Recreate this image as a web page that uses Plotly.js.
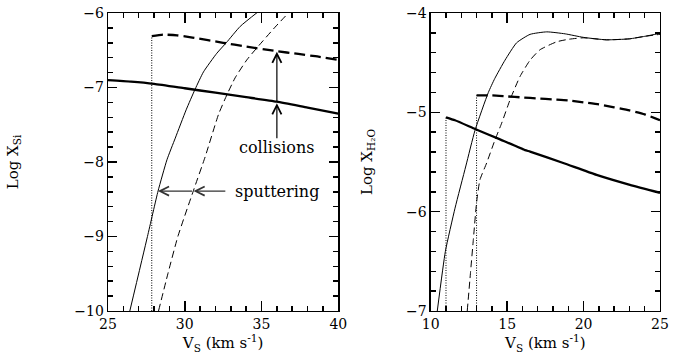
<!DOCTYPE html>
<html>
<head>
<meta charset="utf-8">
<script src="https://cdn.plot.ly/plotly-3.0.1.min.js"></script>
<style>html,body{margin:0;padding:0;background:#fff;}#chart{width:684px;height:362px;}</style>
</head>
<body>
<div id="chart"></div>
<script>
// ---- Left panel: Si ----
const siCollSolidV   = [25, 26.5, 28, 30, 32, 34, 36, 38, 40];
const siCollSolidLog = [-6.90, -6.92, -6.95, -7.01, -7.07, -7.13, -7.19, -7.27, -7.35];
const siCollDashV    = [27.85, 28.6, 29.5, 30.5, 32.5, 34, 35.9, 37.4, 38.5, 40];
const siCollDashLog  = [-6.31, -6.29, -6.30, -6.33, -6.40, -6.45, -6.51, -6.55, -6.58, -6.63];
const siSputSolidV   = [26.42, 27.57, 28.26, 28.84, 29.38, 30.09, 30.68, 31.22, 32.09, 32.70, 33.61, 34.80];
const siSputSolidLog = [-10, -9.0, -8.39, -7.97, -7.68, -7.30, -7.02, -6.79, -6.54, -6.40, -6.18, -5.98];
const siSputDashV    = [28.29, 28.9, 29.55, 30.57, 31.33, 32.2, 32.74, 33.28, 34.04, 34.73, 35.88, 36.75];
const siSputDashLog  = [-10, -9.5, -9.0, -8.38, -7.93, -7.36, -7.10, -6.87, -6.63, -6.46, -6.19, -6.0];
const siDotV   = [27.85, 27.85];
const siDotLog = [-10, -6.31];
const siXRange = [25, 40];
const siYRange = [-10, -6];
const siXTicks = [25, 30, 35, 40];
const siYTicks = [-10, -9, -8, -7, -6];

// ---- Right panel: H2O ----
const h2oCollSolidV   = [11, 11.59, 12.94, 14.5, 16.17, 16.5, 18.67, 20.85, 23.03, 25];
const h2oCollSolidLog = [-5.05, -5.08, -5.17, -5.27, -5.38, -5.395, -5.51, -5.63, -5.73, -5.81];
const h2oCollDashV    = [13, 14, 15, 16, 17, 18, 19, 20, 21, 22, 23, 24, 25];
const h2oCollDashLog  = [-4.83, -4.83, -4.84, -4.85, -4.86, -4.87, -4.88, -4.90, -4.92, -4.95, -4.98, -5.02, -5.08];
const h2oSputSolidV   = [10.43, 10.96, 11.59, 12.3, 12.9, 13.77, 14.19, 14.86, 15.62, 16.5, 17.59, 18.8, 19.98, 21.5, 23, 24, 25];
const h2oSputSolidLog = [-7, -6.40, -5.965, -5.54, -5.18, -4.80, -4.66, -4.475, -4.30, -4.215, -4.19, -4.21, -4.245, -4.27, -4.26, -4.235, -4.205];
const h2oSputDashV    = [12.39, 12.6, 12.79, 13.0, 13.22, 13.66, 14.2, 14.64, 15.2, 15.84, 16.5, 17.15, 18.24, 19.0, 19.98, 21.5, 23, 24, 25];
const h2oSputDashLog  = [-7, -6.62, -6.28, -5.91, -5.68, -5.51, -5.28, -5.11, -4.87, -4.64, -4.475, -4.37, -4.29, -4.265, -4.25, -4.27, -4.26, -4.235, -4.215];
const h2oDot1V   = [11, 11];
const h2oDot1Log = [-7, -5.05];
const h2oDot2V   = [13, 13];
const h2oDot2Log = [-7, -4.83];
const h2oXRange = [10, 25];
const h2oYRange = [-7, -4];
const h2oXTicks = [10, 15, 20, 25];
const h2oYTicks = [-7, -6, -5, -4];

const FONT = "DejaVu Serif, serif";
const thick = {color: '#000', width: 2.3};
const thin = {color: '#000', width: 1};

function tr(x, y, line, xa, ya, shape) {
  return {x: x, y: y, xaxis: xa, yaxis: ya, mode: 'lines', line: Object.assign({}, line, shape ? {shape: shape, smoothing: 0.5} : {}), hoverinfo: 'skip', showlegend: false};
}

const data = [
  tr(siDotV, siDotLog, {color: '#000', width: 1, dash: '1px,1.5px'}, 'x', 'y'),
  tr(siCollSolidV, siCollSolidLog, thick, 'x', 'y', 'spline'),
  tr(siCollDashV, siCollDashLog, Object.assign({dash: '11px,5px'}, thick), 'x', 'y', 'spline'),
  tr(siSputSolidV, siSputSolidLog, thin, 'x', 'y', 'spline'),
  tr(siSputDashV, siSputDashLog, Object.assign({dash: '7px,4px'}, thin), 'x', 'y', 'spline'),
  tr(h2oDot1V, h2oDot1Log, {color: '#000', width: 1, dash: '1px,1.5px'}, 'x2', 'y2'),
  tr(h2oDot2V, h2oDot2Log, {color: '#000', width: 1, dash: '1px,1.5px'}, 'x2', 'y2'),
  tr(h2oCollSolidV, h2oCollSolidLog, thick, 'x2', 'y2', 'spline'),
  tr(h2oCollDashV, h2oCollDashLog, Object.assign({dash: '11px,5px'}, thick), 'x2', 'y2', 'spline'),
  tr(h2oSputSolidV, h2oSputSolidLog, thin, 'x2', 'y2', 'spline'),
  tr(h2oSputDashV, h2oSputDashLog, Object.assign({dash: '7px,4px'}, thin), 'x2', 'y2', 'spline')
];

function axis(extra) {
  return Object.assign({
    showgrid: false, zeroline: false, showline: true, linecolor: '#000', linewidth: 1.3,
    mirror: 'ticks', ticks: 'inside', ticklen: 10, tickwidth: 1.5, tickcolor: '#000',
    tickmode: 'array', tickfont: {family: FONT, size: 14, color: '#000'}
  }, extra);
}

function minusLabel(v) { return v < 0 ? '\u2212' + Math.abs(v) : String(v); }
const xTitle = 'V<sub>S</sub> (km s<sup>-1</sup>)';
const minorX = {tickmode: 'linear', dtick: 1, ticks: 'inside', ticklen: 5, tickwidth: 1.5, tickcolor: '#000', showgrid: false};
const minorY = {tickmode: 'linear', dtick: 0.2, ticks: 'inside', ticklen: 5, tickwidth: 1.5, tickcolor: '#000', showgrid: false};

const layout = {
  width: 684, height: 362,
  margin: {l: 108, r: 24, t: 13, b: 51},
  paper_bgcolor: '#fff', plot_bgcolor: '#fff',
  font: {family: FONT, size: 14, color: '#000'},
  xaxis: axis({domain: [0, 0.4172], range: siXRange, tickvals: siXTicks, ticktext: siXTicks.map(minusLabel), anchor: 'y',
    minor: Object.assign({tick0: 25}, minorX),
    title: {text: xTitle, font: {family: FONT, size: 15}, standoff: 0}}),
  yaxis: axis({domain: [0, 1], range: siYRange, tickvals: siYTicks, ticktext: siYTicks.map(minusLabel), anchor: 'x', ticklen: 9,
    minor: Object.assign({tick0: -10}, minorY),
    title: {text: 'Log X<sub>Si</sub>', font: {family: FONT, size: 15}, standoff: 52}}),
  xaxis2: axis({domain: [0.5846, 1], range: h2oXRange, tickvals: h2oXTicks, ticktext: h2oXTicks.map(minusLabel), anchor: 'y2',
    minor: Object.assign({tick0: 10}, minorX),
    title: {text: xTitle, font: {family: FONT, size: 15}, standoff: 0}}),
  yaxis2: axis({domain: [0, 1], range: h2oYRange, tickvals: h2oYTicks, ticktext: h2oYTicks.map(minusLabel), anchor: 'x2', ticklen: 9,
    minor: Object.assign({tick0: -7}, minorY),
    title: {text: 'Log X<sub>H₂O</sub>', font: {family: FONT, size: 15}, standoff: 29}}),
  annotations: [
    {x: 36, y: -7.81, xref: 'x', yref: 'y', text: 'collisions', showarrow: false,
     font: {family: FONT, size: 16, color: '#000'}},
    {x: 36, y: -7.21, ax: 36, ay: -7.70, xref: 'x', yref: 'y', axref: 'x', ayref: 'y',
     text: '', showarrow: true, arrowhead: 5, arrowsize: 1.5, arrowwidth: 1.2, arrowcolor: '#000', standoff: 0},
    {x: 36, y: -6.52, ax: 36, ay: -7.21, xref: 'x', yref: 'y', axref: 'x', ayref: 'y',
     text: '', showarrow: true, arrowhead: 5, arrowsize: 1.5, arrowwidth: 1.2, arrowcolor: '#000', standoff: 0},
    {x: 36.0, y: -8.39, xref: 'x', yref: 'y', text: 'sputtering', showarrow: false,
     font: {family: FONT, size: 16, color: '#000'}},
    {x: 30.57, y: -8.39, ax: 32.74, ay: -8.39, xref: 'x', yref: 'y', axref: 'x', ayref: 'y',
     text: '', showarrow: true, arrowhead: 5, arrowsize: 1.5, arrowwidth: 1.2, arrowcolor: '#333', standoff: 0},
    {x: 28.25, y: -8.39, ax: 30.57, ay: -8.39, xref: 'x', yref: 'y', axref: 'x', ayref: 'y',
     text: '', showarrow: true, arrowhead: 5, arrowsize: 1.5, arrowwidth: 1.2, arrowcolor: '#333', standoff: 0}
  ]
};

Plotly.newPlot('chart', data, layout, {staticPlot: true, displayModeBar: false});
</script>
</body>
</html>
